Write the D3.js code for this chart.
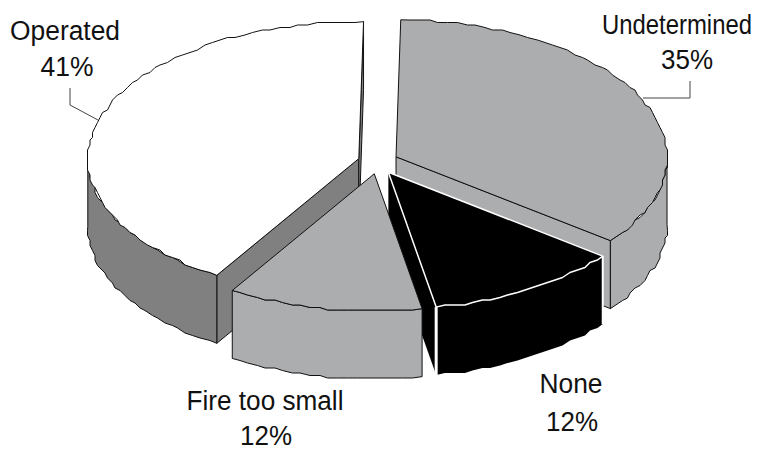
<!DOCTYPE html>
<html lang="en">
<head>
  <meta charset="UTF-8">
  <title>Fire protection pie</title>
  <script src="https://d3js.org/d3.v7.min.js"></script>
  <style>
    body { margin: 0; background: #fff; }
    svg { display: block; }
    text { font-family: "Liberation Sans", Arial, sans-serif; font-size: 28px; fill: #111; text-anchor: middle; }
  </style>
</head>
<body>
  <div id="chart"></div>
  <script>
    // Slices clockwise from 12 o'clock, shares
    const categories = ["Undetermined", "None", "Fire too small", "Operated"];
    const shares = [35.2, 11.7, 11.6, 41.5];
    const percentLabels = ["35%", "12%", "12%", "41%"];

    const topFills = ["#acadaf", "#000000", "#acadaf", "#ffffff"];
    const wallFills = ["#acadaf", "#000000", "#acadaf", "#808080"];
    const edgeColors = ["#111", "#fff", "#111", "#111"];

    // Back slices first so the front ones overlap them
    const drawOrder = [3, 0, 1, 2];

    // Label layout: centre x, baseline, ink width of each line
    const labelX = [[677, 687], [571, 572], [265, 266], [65, 67]];
    const labelY = [[34, 69], [393, 431], [410, 445], [40, 76]];
    const labelW = [[150, 52], [63, 52], [157, 52], [110, 53]];
    const leaders = [
      [[690, 81], [690, 98], [643, 98]],
      [],
      [],
      [[70, 88], [70, 105], [98, 120]]
    ];

    const width = 768, height = 451;
    const cx = 378, cy = 162, rx = 271, ry = 137, depth = 68;
    const explodeX = 20, explodeY = 12;
    const startDeg = 1;

    const svg = d3.select("#chart").append("svg")
      .attr("width", width)
      .attr("height", height);

    const x = d3.scaleLinear().domain([-1, 1]).range([cx - rx, cx + rx]);
    const y = d3.scaleLinear().domain([-1, 1]).range([cy - ry, cy + ry]);

    const rad = d3.scaleLinear().domain([0, 360]).range([0, 2 * Math.PI]);
    const pie = d3.pie().sort(null).value(d => d)
      .startAngle(rad(startDeg)).endAngle(rad(startDeg + 360));
    const slices = pie(shares);

    const line = d3.line().x(d => d[0]).y(d => d[1]);

    // Rim sampled coarsely and snapped to a grid, the source has a rough stepped outline
    const snap = v => Math.round(v / 2.5) * 2.5;

    function rimPoint(a, ox, oy) {
      return [x(Math.sin(a)) + ox, y(-Math.cos(a)) + oy];
    }

    function rim(a0, a1, ox, oy, dy) {
      const steps = Math.max(2, Math.round((a1 - a0) / rad(2)));
      return d3.range(steps + 1).map(i => {
        const p = rimPoint(a0 + (a1 - a0) * i / steps, ox, oy);
        if (i === 0 || i === steps) return [p[0], p[1] + dy];
        return [snap(p[0]), snap(p[1]) + dy];
      });
    }

    drawOrder.forEach(i => {
      const s = slices[i];
      const mid = (s.startAngle + s.endAngle) / 2;
      const ox = explodeX * Math.sin(mid);
      const oy = -explodeY * Math.cos(mid);
      const apex = [cx + ox, cy + oy];
      const g = svg.append("g").attr("class", "slice").attr("data-name", categories[i]);

      // Cut faces, only those that look toward the viewer
      [[s.startAngle, -Math.PI / 2], [s.endAngle, Math.PI / 2]].forEach(([a, turn]) => {
        if (Math.cos(a + turn) >= 0) return;
        const p = rimPoint(a, ox, oy);
        g.append("path")
          .attr("d", line([apex, p, [p[0], p[1] + depth], [apex[0], apex[1] + depth]]) + "Z")
          .attr("fill", wallFills[i])
          .attr("stroke", i === 1 ? "none" : "#111")
          .attr("stroke-width", 1);
      });

      // Outer wall, front half of the ellipse only
      const w0 = Math.max(s.startAngle, rad(90));
      const w1 = Math.min(s.endAngle, rad(270));
      if (w1 > w0) {
        const top = rim(w0, w1, ox, oy, 0);
        const bottom = rim(w0, w1, ox, oy, depth).reverse();
        g.append("path")
          .attr("d", line(top.concat(bottom)) + "Z")
          .attr("fill", wallFills[i])
          .attr("stroke", i === 1 ? "none" : "#111")
          .attr("stroke-width", 1);
      }

      // Top face
      const pts = [apex].concat(rim(s.startAngle, s.endAngle, ox, oy, 0));
      g.append("path")
        .attr("d", line(pts) + "Z")
        .attr("fill", topFills[i])
        .attr("stroke", edgeColors[i])
        .attr("stroke-width", i === 1 ? 1.5 : 1)
        .attr("stroke-linejoin", "round");

      // White corner lines on the black slice
      if (i === 1) {
        [[s.endAngle, 3], [s.startAngle, 2]].forEach(([a, w]) => {
          const p = rimPoint(a, ox, oy);
          g.append("path")
            .attr("d", line([p, [p[0], p[1] + depth]]))
            .attr("stroke", "#fff")
            .attr("stroke-width", w);
        });
      }
    });

    // Leader lines
    svg.selectAll(".leader")
      .data(leaders.filter(d => d.length))
      .enter()
      .append("path")
      .attr("class", "leader")
      .attr("d", line)
      .attr("fill", "none")
      .attr("stroke", "#444")
      .attr("stroke-width", 1);

    // Labels, squeezed sideways to the narrow lettering of the source
    function addLabel(str, px, py, w) {
      const t = svg.append("text").text(str);
      const k = w / t.node().getComputedTextLength();
      t.attr("transform", `translate(${px},${py}) scale(${k},1)`);
    }

    categories.forEach((name, i) => {
      addLabel(name, labelX[i][0], labelY[i][0], labelW[i][0]);
      addLabel(percentLabels[i], labelX[i][1], labelY[i][1], labelW[i][1]);
    });
  </script>
</body>
</html>
